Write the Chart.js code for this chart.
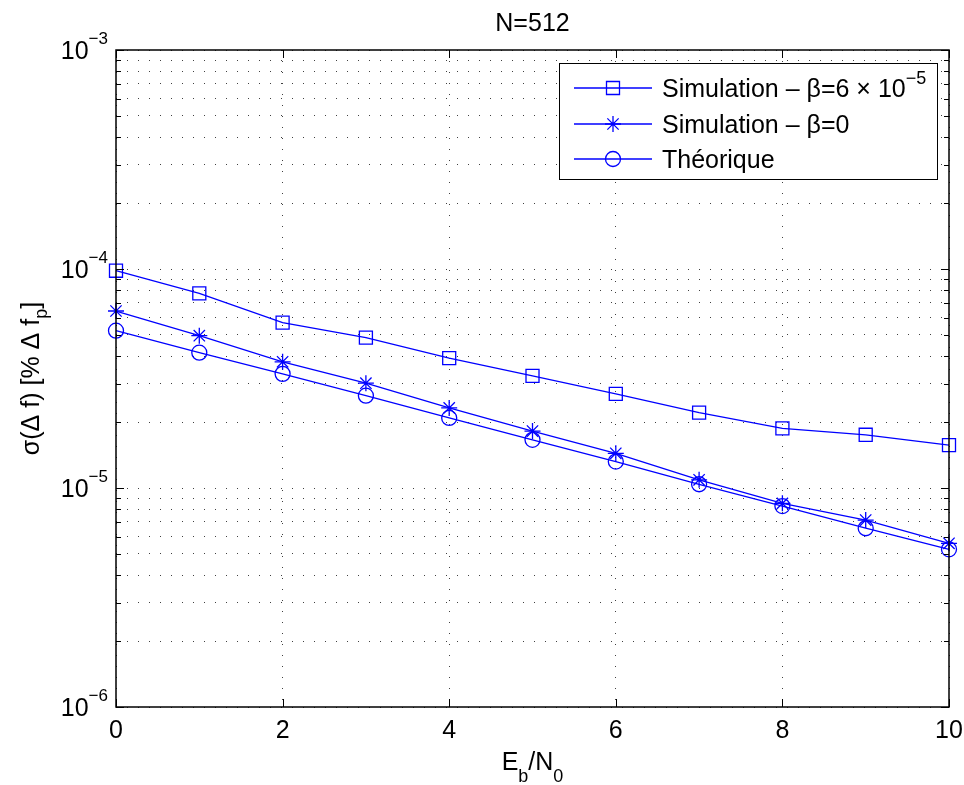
<!DOCTYPE html>
<html>
<head>
<meta charset="utf-8">
<title>N=512</title>
<script src="https://cdn.jsdelivr.net/npm/chart.js@4.4.1/dist/chart.umd.min.js"></script>
<style>
  html, body { margin: 0; padding: 0; background: #fff; }
  #chart { display: block; }
</style>
</head>
<body>
<canvas id="chart" width="964" height="785"></canvas>
<script>
// values
var ebn0 = [0, 1, 2, 3, 4, 5, 6, 7, 8, 9, 10];
var simBeta = [9.82e-5, 7.74e-5, 5.69e-5, 4.86e-5, 3.92e-5, 3.25e-5, 2.69e-5, 2.21e-5, 1.87e-5, 1.75e-5, 1.57e-5];
var simZero = [6.43e-5, 4.96e-5, 3.77e-5, 3.01e-5, 2.32e-5, 1.82e-5, 1.44e-5, 1.09e-5, 8.51e-6, 7.14e-6, 5.59e-6];
var theory = [5.23e-5, 4.15e-5, 3.32e-5, 2.64e-5, 2.09e-5, 1.66e-5, 1.32e-5, 1.04e-5, 8.27e-6, 6.55e-6, 5.25e-6];

// legend texts (main part + superscript)
var seriesNames = ['Simulation – β=6 × 10', 'Simulation – β=0', 'Théorique'];
var seriesSup = ['−5', '', ''];

// axes
var xTicks = [0, 2, 4, 6, 8, 10];
var yDecades = [1e-6, 1e-5, 1e-4, 1e-3];
var yDecadeExp = ['−6', '−5', '−4', '−3'];
var yMinorMult = [2, 3, 4, 5, 6, 7, 8, 9];
var titleText = 'N=512';

var FONT = '"Liberation Sans", Arial, Helvetica, sans-serif';
var BLUE = '#0000ff';
var BIG = 25, SMALL = 18;

function fnt(px) { return px + 'px ' + FONT; }

// all grid / tick positions on the log axis
var yGridValues = [];
yDecades.forEach(function(d, i) {
  yGridValues.push(d);
  if (i < yDecades.length - 1) {
    yMinorMult.forEach(function(m) { yGridValues.push(d * m); });
  }
});

function toPoints(arr) {
  return ebn0.map(function(x, i) { return { x: x, y: arr[i] }; });
}

// text made of pieces: [text, kind] with kind '' | 'sup' | 'sub'
function partsWidth(ctx, parts, big, small) {
  var w = 0;
  parts.forEach(function(p) {
    ctx.font = fnt(p[1] ? small : big);
    w += ctx.measureText(p[0]).width;
  });
  return w;
}
function drawParts(ctx, parts, x, y, big, small, supUp, subDown) {
  ctx.textAlign = 'left';
  ctx.textBaseline = 'alphabetic';
  parts.forEach(function(p) {
    ctx.font = fnt(p[1] ? small : big);
    var dy = p[1] === 'sup' ? -supUp : (p[1] === 'sub' ? subDown : 0);
    ctx.fillText(p[0], x, y + dy);
    x += ctx.measureText(p[0]).width;
  });
}

function drawMarker(ctx, style, x, y) {
  ctx.beginPath();
  if (style === 'rect') {
    ctx.rect(x - 6.5, y - 6.5, 13, 13);
  } else if (style === 'circle') {
    ctx.arc(x, y, 7.5, 0, Math.PI * 2);
  } else if (style === 'star') {
    var r = 8, d = r * Math.SQRT1_2;
    ctx.moveTo(x, y - r); ctx.lineTo(x, y + r);
    ctx.moveTo(x - r, y); ctx.lineTo(x + r, y);
    ctx.moveTo(x - d, y - d); ctx.lineTo(x + d, y + d);
    ctx.moveTo(x - d, y + d); ctx.lineTo(x + d, y - d);
  }
  ctx.stroke();
}

// MATLAB like box, inner ticks, labels and legend
var matlabAxes = {
  id: 'matlabAxes',
  afterDatasetsDraw: function(chart) {
    var ctx = chart.ctx;
    var a = chart.chartArea;
    var xs = chart.scales.x, ys = chart.scales.y;
    ctx.save();
    ctx.strokeStyle = '#000';
    ctx.fillStyle = '#000';

    // inner ticks
    ctx.lineWidth = 1;
    ctx.beginPath();
    xTicks.forEach(function(v) {
      var px = Math.round(xs.getPixelForValue(v)) + 0.5;
      ctx.moveTo(px, a.bottom); ctx.lineTo(px, a.bottom - 8);
      ctx.moveTo(px, a.top); ctx.lineTo(px, a.top + 8);
    });
    yGridValues.forEach(function(v) {
      var py = Math.round(ys.getPixelForValue(v)) + 0.5;
      var len = yDecades.indexOf(v) >= 0 ? 8 : 5;
      ctx.moveTo(a.left, py); ctx.lineTo(a.left + len, py);
      ctx.moveTo(a.right, py); ctx.lineTo(a.right - len, py);
    });
    ctx.stroke();

    // box
    ctx.lineWidth = 1.5;
    ctx.strokeRect(a.left, a.top, a.right - a.left, a.bottom - a.top);

    // x tick labels
    ctx.font = fnt(BIG);
    ctx.textAlign = 'center';
    ctx.textBaseline = 'alphabetic';
    xTicks.forEach(function(v) {
      ctx.fillText(String(v), xs.getPixelForValue(v), a.bottom + 31);
    });

    // y tick labels 10^n
    yDecades.forEach(function(v, i) {
      var py = ys.getPixelForValue(v);
      var parts = [['10', ''], [yDecadeExp[i], 'sup']];
      var w = partsWidth(ctx, parts, BIG, 17);
      drawParts(ctx, parts, a.left - 8 - w, py + 9, BIG, 17, 15, 0);
    });

    // title
    ctx.font = fnt(BIG);
    ctx.textAlign = 'center';
    ctx.fillText(titleText, (a.left + a.right) / 2, 31);

    // x axis title
    var xl = [['E', ''], ['b', 'sub'], ['/N', ''], ['0', 'sub']];
    var xw = partsWidth(ctx, xl, BIG, SMALL);
    drawParts(ctx, xl, (a.left + a.right) / 2 - xw / 2, a.bottom + 63, BIG, SMALL, 0, 12);

    // y axis title
    var yl = [['σ(Δ f) [% Δ f', ''], ['p', 'sub'], [']', '']];
    var yw = partsWidth(ctx, yl, BIG, SMALL);
    ctx.save();
    ctx.translate(39, (a.top + a.bottom) / 2);
    ctx.rotate(-Math.PI / 2);
    drawParts(ctx, yl, -yw / 2, 0, BIG, SMALL, 0, 8);
    ctx.restore();

    // legend
    var lx = 559, ly = 63, lw = 378, lh = 116;
    ctx.fillStyle = '#fff';
    ctx.fillRect(lx, ly, lw, lh);
    ctx.lineWidth = 1;
    ctx.strokeStyle = '#000';
    ctx.strokeRect(lx + 0.5, ly + 0.5, lw, lh);
    var rows = [88, 124, 159];
    chart.data.datasets.forEach(function(ds, i) {
      var ry = rows[i];
      ctx.strokeStyle = ds.borderColor;
      ctx.lineWidth = 1.3;
      ctx.beginPath();
      ctx.moveTo(lx + 15, ry); ctx.lineTo(lx + 93, ry);
      ctx.stroke();
      drawMarker(ctx, ds.pointStyle, lx + 54, ry);
      ctx.fillStyle = '#000';
      var parts = [[seriesNames[i], '']];
      if (seriesSup[i]) parts.push([seriesSup[i], 'sup']);
      drawParts(ctx, parts, lx + 103, ry + 9, BIG, SMALL, 13, 0);
    });

    ctx.restore();
  }
};

function series(label, arr, style, radius) {
  return {
    label: label,
    data: toPoints(arr),
    borderColor: BLUE,
    borderWidth: 1.3,
    pointStyle: style,
    pointRadius: radius,
    pointBorderColor: BLUE,
    pointBorderWidth: 1.3,
    pointBackgroundColor: 'rgba(0,0,0,0)',
    fill: false,
    tension: 0,
    clip: false
  };
}

var gridLine = { color: 'rgba(0,0,0,0.75)', lineWidth: 1, drawTicks: false };

var ctx = document.getElementById('chart').getContext('2d');
var chart = new Chart(ctx, {
  type: 'line',
  data: {
    datasets: [
      series(seriesNames[0], simBeta, 'rect', 9.2),
      series(seriesNames[1], simZero, 'star', 8),
      series(seriesNames[2], theory, 'circle', 7.5)
    ]
  },
  options: {
    responsive: false,
    animation: false,
    events: [],
    layout: { padding: { left: 116, right: 15, top: 50, bottom: 78 } },
    plugins: {
      legend: { display: false },
      title: { display: false },
      tooltip: { enabled: false }
    },
    scales: {
      x: {
        type: 'linear',
        min: 0,
        max: 10,
        ticks: { display: false, stepSize: 2, autoSkip: false },
        afterBuildTicks: function(axis) {
          axis.ticks = xTicks.map(function(v) { return { value: v }; });
        },
        grid: gridLine,
        border: { display: false, dash: [1, 10] }
      },
      y: {
        type: 'logarithmic',
        min: 1e-6,
        max: 1e-3,
        ticks: { display: false, autoSkip: false },
        afterBuildTicks: function(axis) {
          axis.ticks = yGridValues.map(function(v) { return { value: v }; });
        },
        grid: gridLine,
        border: { display: false, dash: [1, 10] }
      }
    }
  },
  plugins: [matlabAxes]
});
</script>
</body>
</html>
